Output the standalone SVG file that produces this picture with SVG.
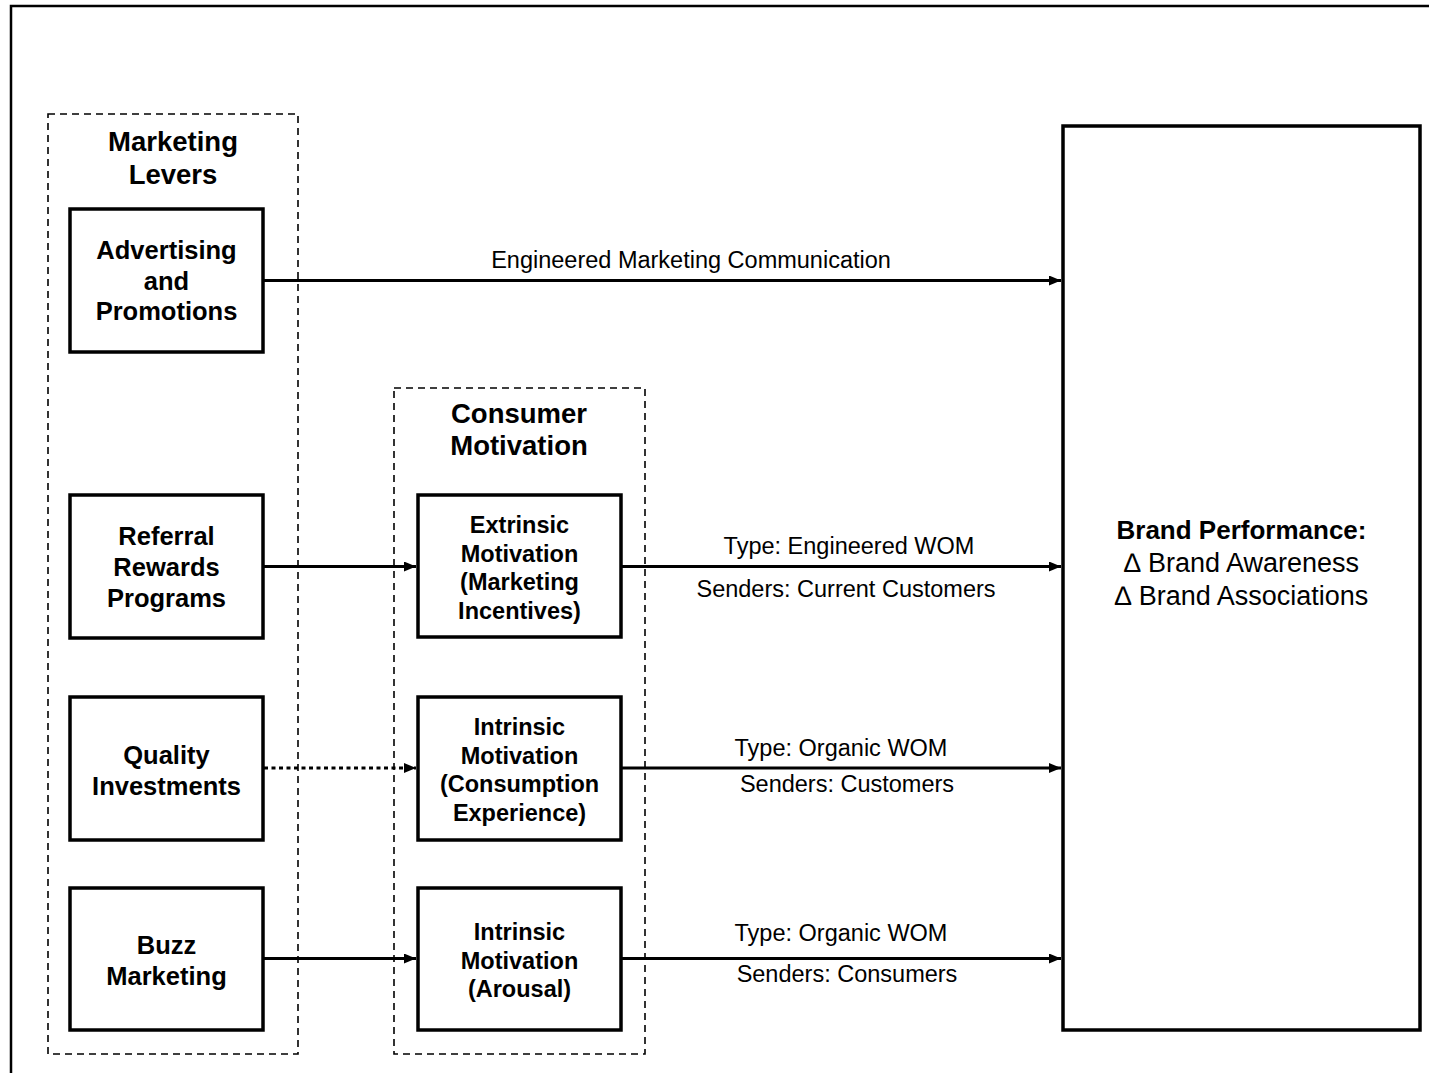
<svg xmlns="http://www.w3.org/2000/svg" width="1429" height="1073" viewBox="0 0 1429 1073">
<defs>
<style>
.bg{fill:#fff}
.frame{fill:none;stroke:#000;stroke-width:2.5}
.group{fill:none;stroke:#000;stroke-width:1.6;stroke-dasharray:7 5}
.node{fill:#fff;stroke:#000;stroke-width:3.5}
.t{font-family:"Liberation Sans",Arial,sans-serif;fill:#000;text-anchor:middle}
.title{font-size:27.5px;font-weight:bold}
.lb{font-size:25.5px;font-weight:bold}
.mb{font-size:23.5px;font-weight:bold}
.bp{font-size:26px;font-weight:bold}
.br{font-size:27px}
.lab{font-size:23.5px}
.edge{fill:none;stroke:#000;stroke-width:3}
.dot{stroke-dasharray:4 3.5}
</style>
<marker id="ah" markerWidth="12" markerHeight="10" refX="12" refY="5" orient="auto" markerUnits="userSpaceOnUse">
<path d="M0,0 L12,5 L0,10 Z" fill="#000"/>
</marker>
</defs>
<rect class="bg" x="0" y="0" width="1429" height="1073"/>
<rect class="frame" x="11" y="6" width="1500" height="1200"/>

<g id="marketing-levers">
<rect class="group" x="48" y="114" width="250" height="940"/>
<text class="t title" x="173" y="151">Marketing</text>
<text class="t title" x="173" y="184">Levers</text>
</g>
<g id="consumer-motivation">
<rect class="group" x="394" y="388" width="251" height="666"/>
<text class="t title" x="519" y="423">Consumer</text>
<text class="t title" x="519" y="455">Motivation</text>
</g>

<g id="advertising">
<rect class="node" x="70" y="209" width="193" height="143"/>
<text class="t lb" x="166.5" y="259">Advertising</text>
<text class="t lb" x="166.5" y="290">and</text>
<text class="t lb" x="166.5" y="320">Promotions</text>
</g>
<g id="referral">
<rect class="node" x="70" y="495" width="193" height="143"/>
<text class="t lb" x="166.5" y="545">Referral</text>
<text class="t lb" x="166.5" y="576">Rewards</text>
<text class="t lb" x="166.5" y="607">Programs</text>
</g>
<g id="quality">
<rect class="node" x="70" y="697" width="193" height="143"/>
<text class="t lb" x="166.5" y="764">Quality</text>
<text class="t lb" x="166.5" y="795">Investments</text>
</g>
<g id="buzz">
<rect class="node" x="70" y="888" width="193" height="142"/>
<text class="t lb" x="166.5" y="954">Buzz</text>
<text class="t lb" x="166.5" y="985">Marketing</text>
</g>

<g id="extrinsic">
<rect class="node" x="418" y="495" width="203" height="142"/>
<text class="t mb" x="519.5" y="533">Extrinsic</text>
<text class="t mb" x="519.5" y="561.5">Motivation</text>
<text class="t mb" x="519.5" y="590">(Marketing</text>
<text class="t mb" x="519.5" y="618.5">Incentives)</text>
</g>
<g id="intrinsic-consumption">
<rect class="node" x="418" y="697" width="203" height="143"/>
<text class="t mb" x="519.5" y="735">Intrinsic</text>
<text class="t mb" x="519.5" y="763.5">Motivation</text>
<text class="t mb" x="519.5" y="792">(Consumption</text>
<text class="t mb" x="519.5" y="820.5">Experience)</text>
</g>
<g id="intrinsic-arousal">
<rect class="node" x="418" y="888" width="203" height="142"/>
<text class="t mb" x="519.5" y="940">Intrinsic</text>
<text class="t mb" x="519.5" y="968.5">Motivation</text>
<text class="t mb" x="519.5" y="997">(Arousal)</text>
</g>

<g id="brand-performance">
<rect class="node" x="1063" y="126" width="357" height="904"/>
<text class="t bp" x="1241.5" y="539">Brand Performance:</text>
<text class="t br" x="1241.5" y="572">∆ Brand Awareness</text>
<text class="t br" x="1241.5" y="605">∆ Brand Associations</text>
</g>

<g id="connectors">
<line class="edge" x1="263" y1="280.5" x2="1061" y2="280.5" marker-end="url(#ah)"/>
<text class="t lab" x="691" y="268">Engineered Marketing Communication</text>
<line class="edge" x1="263" y1="566.5" x2="416" y2="566.5" marker-end="url(#ah)"/>
<line class="edge dot" x1="264" y1="768" x2="416" y2="768" marker-end="url(#ah)"/>
<line class="edge" x1="263" y1="958.5" x2="416" y2="958.5" marker-end="url(#ah)"/>
<line class="edge" x1="621" y1="566.5" x2="1061" y2="566.5" marker-end="url(#ah)"/>
<text class="t lab" x="849" y="554">Type: Engineered WOM</text>
<text class="t lab" x="846" y="597">Senders: Current Customers</text>
<line class="edge" x1="621" y1="768" x2="1061" y2="768" marker-end="url(#ah)"/>
<text class="t lab" x="841" y="756">Type: Organic WOM</text>
<text class="t lab" x="847" y="792">Senders: Customers</text>
<line class="edge" x1="621" y1="958.5" x2="1061" y2="958.5" marker-end="url(#ah)"/>
<text class="t lab" x="841" y="941">Type: Organic WOM</text>
<text class="t lab" x="847" y="982">Senders: Consumers</text>
</g>
</svg>
